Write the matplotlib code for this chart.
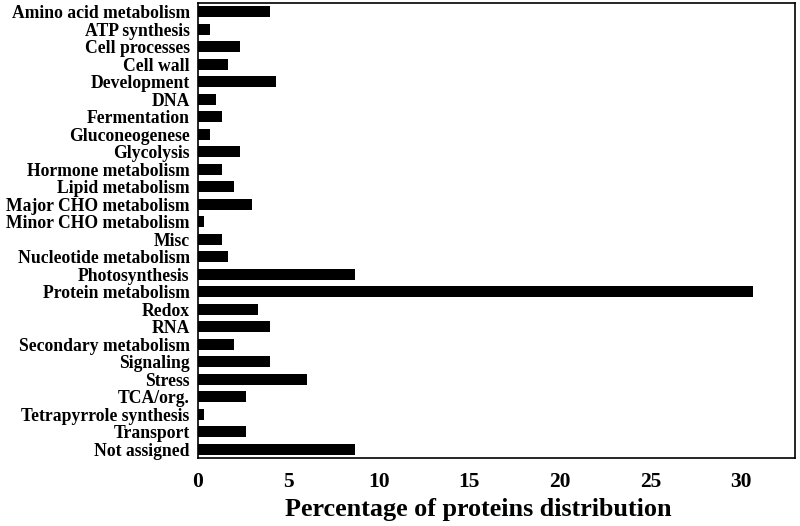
import matplotlib
matplotlib.use('Agg')
import matplotlib.pyplot as plt
import numpy as np

categories = ['Amino acid metabolism', 'ATP synthesis', 'Cell processes', 'Cell wall',
              'Development', 'DNA', 'Fermentation', 'Gluconeogenese', 'Glycolysis',
              'Hormone metabolism', 'Lipid metabolism', 'Major CHO metabolism',
              'Minor CHO metabolism', 'Misc', 'Nucleotide metabolism', 'Photosynthesis',
              'Protein metabolism', 'Redox', 'RNA', 'Secondary metabolism', 'Signaling',
              'Stress', 'TCA/org.', 'Tetrapyrrole synthesis', 'Transport', 'Not assigned']
values = [4.0, 0.67, 2.33, 1.67, 4.33, 1.0, 1.33, 0.67, 2.33, 1.33, 2.0, 3.0, 0.33,
          1.33, 1.67, 8.67, 30.67, 3.33, 4.0, 2.0, 4.0, 6.0, 2.67, 0.33, 2.67, 8.67]
xticks = [0, 5, 10, 15, 20, 25, 30]

plt.rcParams['font.family'] = 'Liberation Serif'
plt.rcParams['font.weight'] = 'bold'

fig = plt.figure(figsize=(8, 5.26), dpi=100)
ax = fig.add_axes([0.2475, 0.1293, 0.99375 - 0.2475, 0.9943 - 0.1293])

y = np.arange(len(categories))
ax.barh(y, values, height=0.63, color='black')
ax.set_yticks(y)
ax.set_yticklabels(categories, fontsize=12.7, fontweight='bold')
ax.set_ylim(len(categories) - 0.5, -0.5)
ax.set_xlim(0, 33)
ax.set_xticks(xticks)
ax.set_xticklabels([str(t) for t in xticks], fontsize=15.5, fontweight='bold')
ax.tick_params(axis='y', length=0, pad=6)
ax.tick_params(axis='x', length=0, pad=10)
for s in ax.spines.values():
    s.set_linewidth(1.2)
ax.set_xlabel('Percentage of proteins distribution', fontsize=18.8, fontweight='bold')
ax.xaxis.set_label_coords(0.4695, -0.088)

fig.savefig('out.png', dpi=100)
